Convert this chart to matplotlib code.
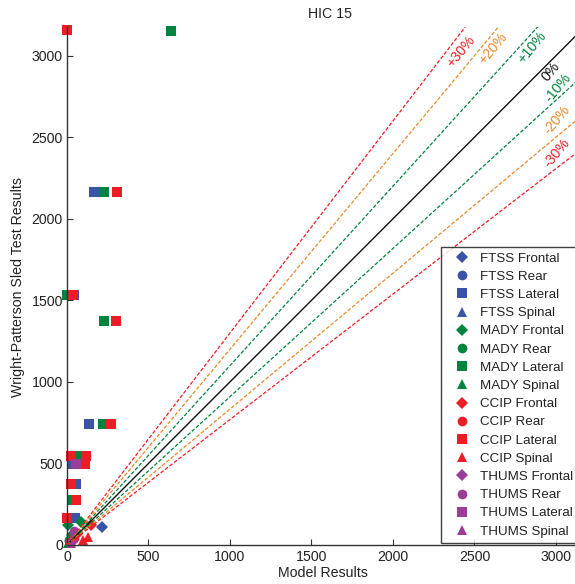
import matplotlib
matplotlib.use("Agg")
import matplotlib.pyplot as plt
import numpy as np

plt.rcParams['font.family'] = ['Liberation Sans', 'DejaVu Sans']

# ---------------- data (model result, sled test result) ----------------
ftss_frontal_x = [213, 30];            ftss_frontal_y = [113, 40]
ftss_rear_x = [15];                    ftss_rear_y = [25]
ftss_lateral_x = [166, 45, 137, 35, 53, 49]
ftss_lateral_y = [2164, 1531, 741, 496, 377, 165]
ftss_spinal_x = [20];                  ftss_spinal_y = [10]

mady_frontal_x = [84, 5, 30];          mady_frontal_y = [138, 125, 60]
mady_rear_x = [10];                    mady_rear_y = [30]
mady_lateral_x = [638, 225, 0, 225, 223, 74, 29]
mady_lateral_y = [3150, 2164, 1531, 1371, 741, 543, 273]
mady_spinal_x = [5];                   mady_spinal_y = [15]

ccip_frontal_x = [147, 60];            ccip_frontal_y = [125, 70]
ccip_rear_x = [20, 45];                ccip_rear_y = [20, 45]
ccip_lateral_x = [0, 307, 35, 301, 270, 23, 117, 110, 25, 53, 2]
ccip_lateral_y = [3155, 2164, 1531, 1371, 741, 543, 543, 496, 377, 273, 165]
ccip_spinal_x = [130, 100];            ccip_spinal_y = [52, 30]

thums_frontal_x = [30];                thums_frontal_y = [20]
thums_rear_x = [43];                   thums_rear_y = [83]
thums_lateral_x = [53];                thums_lateral_y = [496]
thums_spinal_x = [25];                 thums_spinal_y = [10]

models = ['FTSS', 'MADY', 'CCIP', 'THUMS']
impacts = ['Frontal', 'Rear', 'Lateral', 'Spinal']
pct_levels = [30, 20, 10, 0, -10, -20, -30]
pct_labels = ['+30%', '+20%', '+10%', '0%', '-10%', '-20%', '-30%']
# label anchor positions (data units)
pct_label_x = [2417, 2613, 2853, 2969, 3015, 3005, 3005]
pct_label_y = [3023, 3047, 3053, 2900, 2802, 2606, 2403]

series = {
    ('FTSS', 'Frontal'): (ftss_frontal_x, ftss_frontal_y),
    ('FTSS', 'Rear'): (ftss_rear_x, ftss_rear_y),
    ('FTSS', 'Lateral'): (ftss_lateral_x, ftss_lateral_y),
    ('FTSS', 'Spinal'): (ftss_spinal_x, ftss_spinal_y),
    ('MADY', 'Frontal'): (mady_frontal_x, mady_frontal_y),
    ('MADY', 'Rear'): (mady_rear_x, mady_rear_y),
    ('MADY', 'Lateral'): (mady_lateral_x, mady_lateral_y),
    ('MADY', 'Spinal'): (mady_spinal_x, mady_spinal_y),
    ('CCIP', 'Frontal'): (ccip_frontal_x, ccip_frontal_y),
    ('CCIP', 'Rear'): (ccip_rear_x, ccip_rear_y),
    ('CCIP', 'Lateral'): (ccip_lateral_x, ccip_lateral_y),
    ('CCIP', 'Spinal'): (ccip_spinal_x, ccip_spinal_y),
    ('THUMS', 'Frontal'): (thums_frontal_x, thums_frontal_y),
    ('THUMS', 'Rear'): (thums_rear_x, thums_rear_y),
    ('THUMS', 'Lateral'): (thums_lateral_x, thums_lateral_y),
    ('THUMS', 'Spinal'): (thums_spinal_x, thums_spinal_y),
}

# ---------------- styles ----------------
model_colors = {'FTSS': '#3A53A4', 'MADY': '#00833E', 'CCIP': '#EE1D25', 'THUMS': '#9B3D97'}
impact_markers = {'Frontal': 'D', 'Rear': 'o', 'Lateral': 's', 'Spinal': '^'}
impact_sizes = {'Frontal': 6.0, 'Rear': 7.0, 'Lateral': 6.5, 'Spinal': 7.0}
pct_colors = {30: '#EE1D25', 20: '#E8892B', 10: '#00833E', 0: '#111111'}

FS = 10.2

fig = plt.figure(figsize=(5.75, 5.84), dpi=100)
ax = fig.add_axes([67 / 575, 39 / 584, 508 / 575, 518 / 584])
ax.set_xlim(0, 3117)
ax.set_ylim(0, 3176)

handles = []
for m in models:
    for imp in impacts:
        xs, ys = series[(m, imp)]
        h, = ax.plot(xs, ys, linestyle='none', marker=impact_markers[imp],
                     markersize=impact_sizes[imp], color=model_colors[m],
                     markeredgewidth=0, label=f'{m} {imp}', zorder=2,
                     clip_on=False)
        handles.append(h)

# percentage reference lines
xl = np.array([0, 3500])
for p in pct_levels:
    factor = 1 + p / 100 if p >= 0 else 1 / (1 - p / 100)
    col = pct_colors[abs(p)]
    ls = '-' if p == 0 else (0, (3, 1.5))
    ax.plot(xl, xl * factor, color=col, lw=1.0 if p == 0 else 0.9, linestyle=ls, zorder=3)

for p, lab, lx, ly in zip(pct_levels, pct_labels, pct_label_x, pct_label_y):
    col = pct_colors[abs(p)]
    ax.text(lx, ly, lab, color=col, fontsize=10.2, rotation=50,
            ha='center', va='center', rotation_mode='anchor', clip_on=False, zorder=4)

# axes styling (MATLAB-like, box off)
for s in ['top', 'right']:
    ax.spines[s].set_visible(False)
for s in ['left', 'bottom']:
    ax.spines[s].set_color('#333333')
    ax.spines[s].set_linewidth(1.0)
ax.set_xticks([0, 500, 1000, 1500, 2000, 2500, 3000])
ax.set_yticks([0, 500, 1000, 1500, 2000, 2500, 3000])
ax.tick_params(direction='in', length=4, width=0.8, color='#333333',
               labelsize=FS, labelcolor='#222222')
ax.tick_params(axis='x', pad=3.5)
ax.tick_params(axis='y', pad=3)

ax.set_xlabel('Model Results', fontsize=FS, color='#222222')
ax.xaxis.set_label_coords((323 - 67) / 508, -(566 - 545) / 518)
ax.set_ylabel('Wright-Patterson Sled Test Results', fontsize=FS, color='#222222')
ax.yaxis.set_label_coords(-(67 - 25) / 508, (545 - 287) / 518)
fig.text(330 / 575, 1 - 14 / 584, 'HIC 15', fontsize=FS, color='#222222',
         ha='center', va='center')

leg = fig.legend(handles=handles, loc='upper left',
                 bbox_to_anchor=(441 / 575, 1 - 247 / 584 - 0.01, 0.32, 0.01),
                 mode='expand', fontsize=9.6, frameon=True, fancybox=False,
                 edgecolor='#111111', borderpad=0.4, labelspacing=0.44,
                 handlelength=2.4, handletextpad=0.15, borderaxespad=0,
                 markerscale=1.0)
leg.get_frame().set_linewidth(1.0)
leg.set_zorder(10)
for t in leg.get_texts():
    t.set_color('#222222')

fig.savefig('out.png', dpi=100)
